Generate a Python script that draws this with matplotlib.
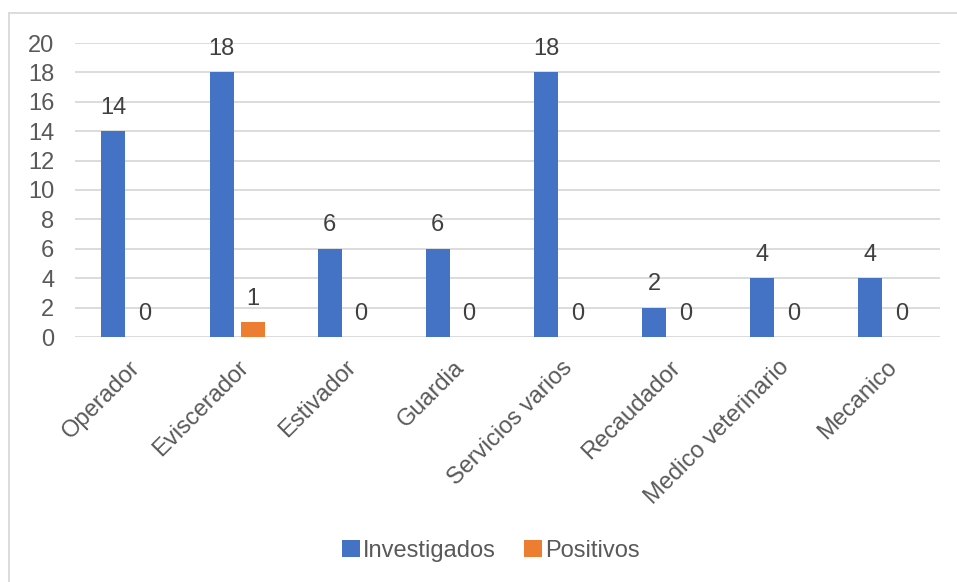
import numpy as np
import matplotlib.pyplot as plt
from matplotlib.lines import Line2D

plt.rcParams['font.family'] = ['Liberation Sans', 'DejaVu Sans']

categorias = ['Operador', 'Eviscerador', 'Estivador', 'Guardia', 'Servicios varios',
              'Recaudador', 'Medico veterinario', 'Mecanico']
investigados = [14, 18, 6, 6, 18, 2, 4, 4]
positivos = [0, 1, 0, 0, 0, 0, 0, 0]

azul = '#4472C4'
naranja = '#ED7D31'
gris_txt = '#595959'
fs = 17

fig = plt.figure(figsize=(9.57, 5.82), dpi=100)
ax = fig.add_axes([75 / 957, 1 - 337 / 582, 865 / 957, 294 / 582])

x = np.arange(len(categorias))
w = 0.222
off = 0.145
b1 = ax.bar(x - off, investigados, w, color=azul, label='Investigados', zorder=3)
b2 = ax.bar(x + off, positivos, w, color=naranja, label='Positivos', zorder=3)

for bars in (b1, b2):
    for rect in bars:
        h = rect.get_height()
        ax.annotate(f'{h:g}', (rect.get_x() + rect.get_width() / 2, h),
                    xytext=(0, 9), textcoords='offset points',
                    ha='center', va='bottom', fontsize=fs, color='#404040')

ax.set_xlim(-0.5, len(categorias) - 0.5)
ax.set_ylim(0, 20)
ax.set_yticks(range(0, 21, 2))
ax.yaxis.grid(True, color='#D9D9D9', linewidth=1.3, zorder=0)
for s in ax.spines.values():
    s.set_visible(False)
ax.tick_params(axis='both', length=0, labelsize=fs, colors=gris_txt)
ax.tick_params(axis='y', pad=15)
ax.set_xticks(x)
ax.set_xticklabels(categorias, rotation=45, ha='right', rotation_mode='anchor')
ax.tick_params(axis='x', pad=14)

fig.legend(loc='center', bbox_to_anchor=(491 / 957, 1 - 551 / 582), ncol=2, frameon=False,
           fontsize=fs, handlelength=0.75, handleheight=0.75, handletextpad=0.15,
           columnspacing=1.2, labelcolor=gris_txt)

# borde del area del grafico
fig.add_artist(Line2D([9 / 957, 9 / 957], [0, 1 - 13 / 582], color='#D9D9D9', lw=1.3))
fig.add_artist(Line2D([9 / 957, 1], [1 - 13 / 582, 1 - 13 / 582], color='#D9D9D9', lw=1.3))

fig.savefig('out.png', dpi=100)
